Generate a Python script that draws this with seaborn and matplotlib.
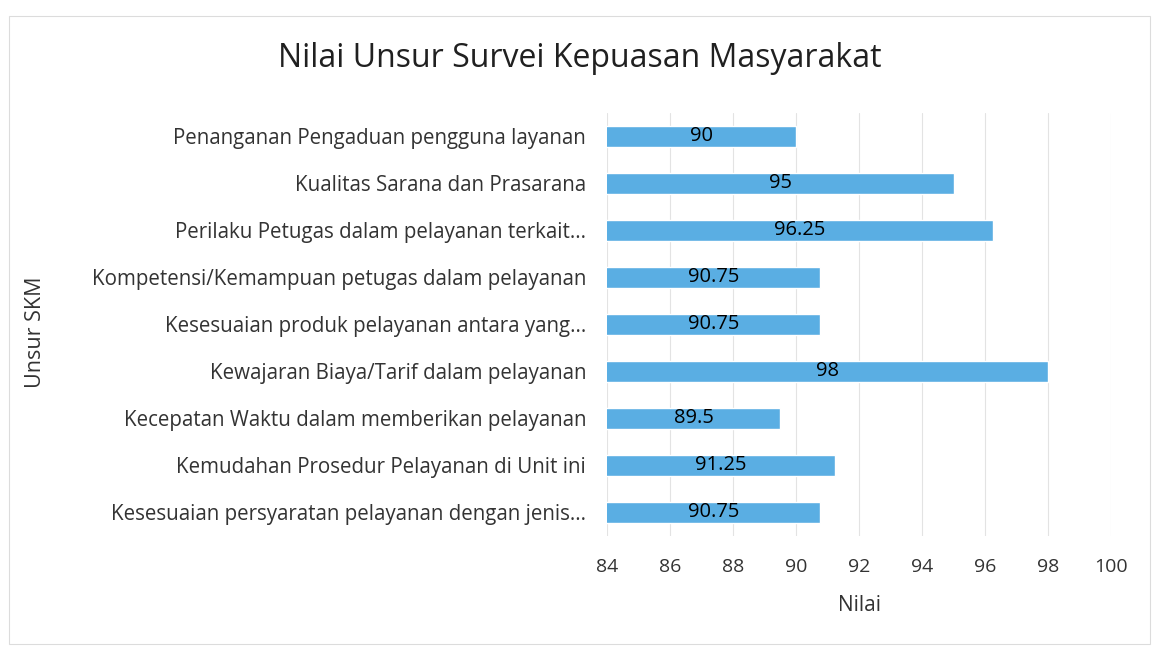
import matplotlib.pyplot as plt
from matplotlib.patches import Rectangle
import seaborn as sns
import pandas as pd

# Data (top to bottom)
unsur = [
    'Penanganan Pengaduan pengguna layanan',
    'Kualitas Sarana dan Prasarana',
    'Perilaku Petugas dalam pelayanan terkait...',
    'Kompetensi/Kemampuan petugas dalam pelayanan',
    'Kesesuaian produk pelayanan antara yang...',
    'Kewajaran Biaya/Tarif dalam pelayanan',
    'Kecepatan Waktu dalam memberikan pelayanan',
    'Kemudahan Prosedur Pelayanan di Unit ini',
    'Kesesuaian persyaratan pelayanan dengan jenis...',
]
nilai = [90, 95, 96.25, 90.75, 90.75, 98, 89.5, 91.25, 90.75]
value_labels = ['90', '95', '96.25', '90.75', '90.75', '98', '89.5', '91.25', '90.75']
x_ticks = [84, 86, 88, 90, 92, 94, 96, 98, 100]

df = pd.DataFrame({'Unsur': unsur, 'Nilai': nilai})

sns.set_theme(style='white')
plt.rcParams['font.family'] = ['Open Sans', 'DejaVu Sans']

fig = plt.figure(figsize=(11.59, 6.51), dpi=100)
ax = fig.add_axes([0.5237, 0.177, 0.435, 0.65])

sns.barplot(data=df, y='Unsur', x='Nilai', orient='h', color='#5aaee3',
            saturation=1, width=0.45, ax=ax, zorder=2)

ax.set_xlim(84, 100)
ax.set_xticks(x_ticks)
ax.set_xticklabels([str(t) for t in x_ticks], fontsize=14, color='#333333')
ax.tick_params(axis='y', labelsize=14.8, labelcolor='#333333', length=0, pad=15)
ax.tick_params(axis='x', length=0, pad=16)
ax.grid(axis='x', color='#e3e3e3', lw=0.8, zorder=0)
ax.set_axisbelow(True)
for s in ax.spines.values():
    s.set_visible(False)

# data labels centered inside the bars
for i, (v, lab) in enumerate(zip(nilai, value_labels)):
    ax.text((84 + v) / 2, i, lab, ha='center', va='center', fontsize=14.5,
            color='black', zorder=3)

ax.set_xlabel('Nilai', fontsize=15, color='#333333', labelpad=14)
ax.set_ylabel('')
fig.text(0.031, 0.49, 'Unsur SKM', rotation=90, ha='center', va='center',
         fontsize=15.5, color='#333333')

fig.suptitle('Nilai Unsur Survei Kepuasan Masyarakat', x=0.5, y=0.935,
             fontsize=23, color='#202020')

fig.patches.append(Rectangle((0.008, 0.01), 0.984, 0.965, transform=fig.transFigure,
                             fill=False, edgecolor='#dcdcdc', lw=0.8))

plt.savefig('out.png', dpi=100)
plt.close()
